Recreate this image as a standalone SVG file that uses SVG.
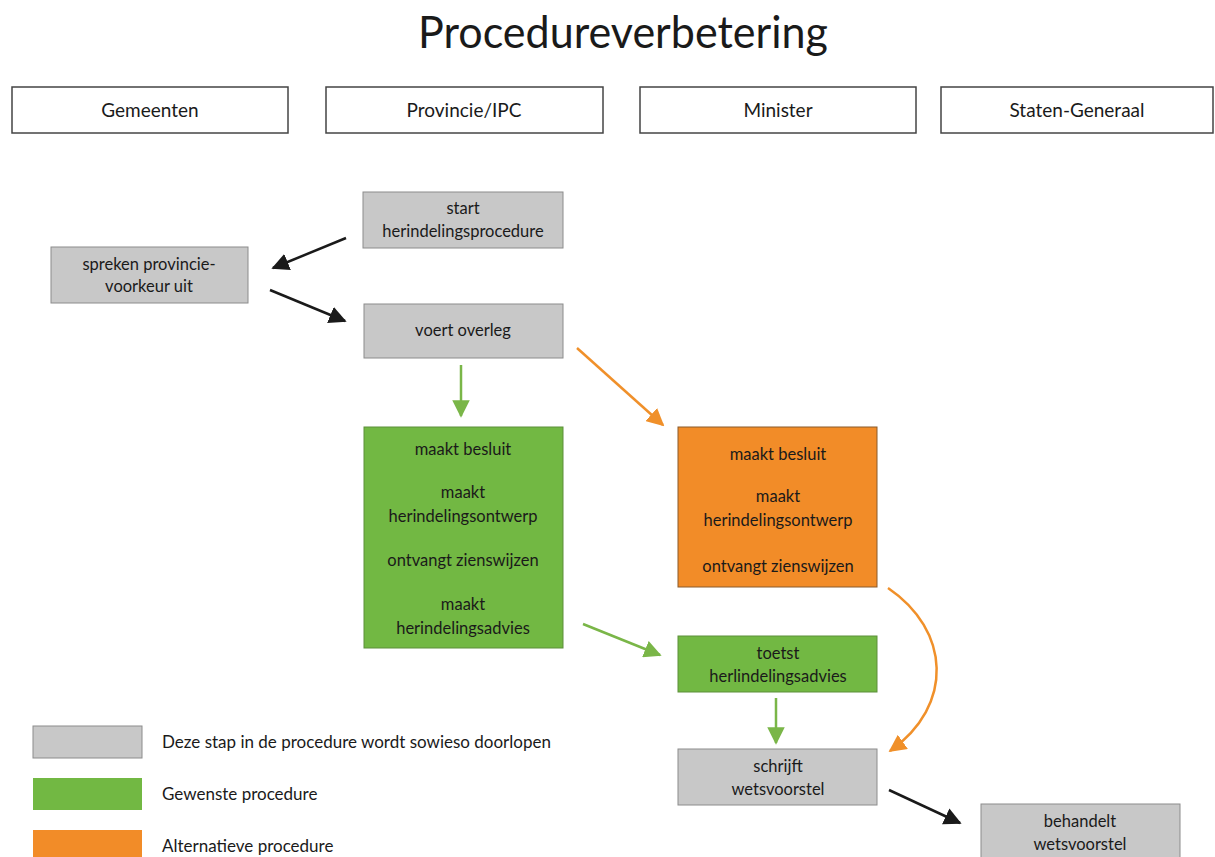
<svg xmlns="http://www.w3.org/2000/svg" width="1215" height="857" viewBox="0 0 1215 857">
<defs>
<style>
text{font-family:Lato,"Open Sans","Liberation Sans",sans-serif;fill:#1a1a1a;text-anchor:middle}
.t{font-size:16.5px}
.h{font-size:19px}
.hdr rect{fill:#fff;stroke:#444;stroke-width:1.5}
.gray{fill:#c8c8c8;stroke:#8c8c8c;stroke-width:1}
.green{fill:#72b843;stroke:#5d8f3a;stroke-width:1}
.orange{fill:#f28c28;stroke:#8a5a2a;stroke-width:1}
.lk{fill:none;stroke-width:2.5}
.leg{text-anchor:start;font-size:17px}
</style>
<marker id="ab" viewBox="0 0 10 10" refX="9" refY="5" markerWidth="7" markerHeight="7" markerUnits="strokeWidth" orient="auto"><path d="M0,0L10,5L0,10z" fill="#1a1a1a"/></marker>
<marker id="ag" viewBox="0 0 10 10" refX="9" refY="5" markerWidth="7" markerHeight="7" markerUnits="strokeWidth" orient="auto"><path d="M0,0L10,5L0,10z" fill="#7ab648"/></marker>
<marker id="ao" viewBox="0 0 10 10" refX="9" refY="5" markerWidth="7" markerHeight="7" markerUnits="strokeWidth" orient="auto"><path d="M0,0L10,5L0,10z" fill="#f0902a"/></marker>
</defs>
<rect width="1215" height="857" fill="#fff"/>
<text x="623" y="48" style="font-size:44px" textLength="410" lengthAdjust="spacingAndGlyphs">Procedureverbetering</text>

<g id="hdr-gemeenten" class="hdr"><rect x="12" y="87" width="276" height="46"/><text class="h" x="150" y="117">Gemeenten</text></g>
<g id="hdr-provincie" class="hdr"><rect x="326" y="87" width="277" height="46"/><text class="h" x="464" y="117">Provincie/IPC</text></g>
<g id="hdr-minister" class="hdr"><rect x="640" y="87" width="276" height="46"/><text class="h" x="778" y="117">Minister</text></g>
<g id="hdr-staten" class="hdr"><rect x="941" y="87" width="272" height="46"/><text class="h" x="1077" y="117">Staten-Generaal</text></g>

<g id="connectors">
<line class="lk" x1="346" y1="238" x2="273" y2="268" stroke="#1a1a1a" marker-end="url(#ab)"/>
<line class="lk" x1="270" y1="290" x2="345" y2="321" stroke="#1a1a1a" marker-end="url(#ab)"/>
<line class="lk" x1="461" y1="365" x2="461" y2="416" stroke="#7ab648" stroke-width="2" marker-end="url(#ag)"/>
<line class="lk" x1="577" y1="348" x2="663" y2="425" stroke="#f0902a" marker-end="url(#ao)"/>
<line class="lk" x1="583" y1="624" x2="660" y2="655" stroke="#7ab648" marker-end="url(#ag)"/>
<line class="lk" x1="776" y1="698" x2="776" y2="743" stroke="#7ab648" stroke-width="2" marker-end="url(#ag)"/>
<path class="lk" d="M888,588 C950,630 955,705 890,751" stroke="#f0902a" marker-end="url(#ao)"/>
<line class="lk" x1="889" y1="790" x2="960" y2="823" stroke="#1a1a1a" marker-end="url(#ab)"/>
</g>

<g id="start"><rect class="gray" x="363" y="192" width="200" height="56"/><text class="t" x="463" y="214">start</text><text class="t" x="463" y="237">herindelingsprocedure</text></g>
<g id="spreken"><rect class="gray" x="51" y="247" width="197" height="56"/><text class="t" x="149" y="270">spreken provincie-</text><text class="t" x="149" y="292">voorkeur uit</text></g>
<g id="overleg"><rect class="gray" x="364" y="304" width="199" height="54"/><text class="t" x="463" y="336">voert overleg</text></g>
<g id="provincie-besluit"><rect class="green" x="364" y="427" width="199" height="221"/>
<text class="t" x="463" y="455">maakt besluit</text>
<text class="t" x="463" y="498">maakt</text><text class="t" x="463" y="522">herindelingsontwerp</text>
<text class="t" x="463" y="566">ontvangt zienswijzen</text>
<text class="t" x="463" y="610">maakt</text><text class="t" x="463" y="634">herindelingsadvies</text></g>
<g id="minister-besluit"><rect class="orange" x="678" y="427" width="199" height="160"/>
<text class="t" x="778" y="460">maakt besluit</text>
<text class="t" x="778" y="502">maakt</text><text class="t" x="778" y="526">herindelingsontwerp</text>
<text class="t" x="778" y="572">ontvangt zienswijzen</text></g>
<g id="toetst"><rect class="green" x="678" y="636" width="199" height="56"/><text class="t" x="778" y="659">toetst</text><text class="t" x="778" y="682">herlindelingsadvies</text></g>
<g id="schrijft"><rect class="gray" x="678" y="749" width="199" height="56"/><text class="t" x="778" y="772">schrijft</text><text class="t" x="778" y="795">wetsvoorstel</text></g>
<g id="behandelt"><rect class="gray" x="981" y="804" width="199" height="60"/><text class="t" x="1080" y="827">behandelt</text><text class="t" x="1080" y="850">wetsvoorstel</text></g>

<g id="legend">
<rect class="gray" x="33" y="726" width="109" height="32"/>
<text class="leg" x="162" y="748">Deze stap in de procedure wordt sowieso doorlopen</text>
<rect class="green" x="33" y="778" width="109" height="32" style="stroke:none"/>
<text class="leg" x="162" y="800">Gewenste procedure</text>
<rect class="orange" x="33" y="830" width="109" height="32" style="stroke:none"/>
<text class="leg" x="162" y="852">Alternatieve procedure</text>
</g>
</svg>
